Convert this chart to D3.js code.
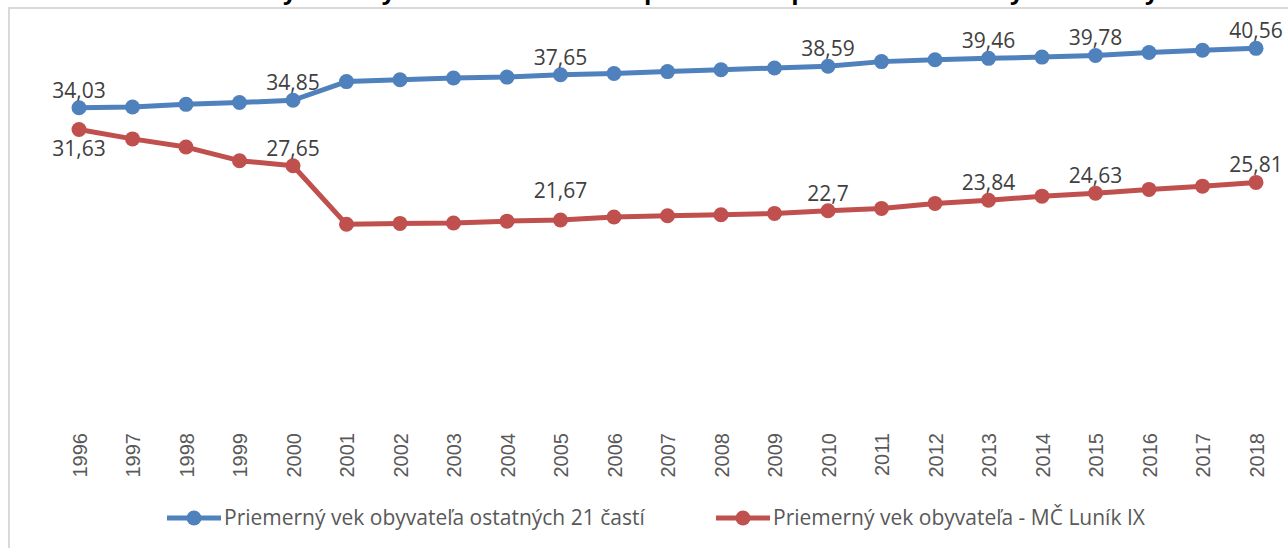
<!DOCTYPE html>
<meta charset="utf-8">
<style>
body {
  margin: 0;
  background-color: #FFFFFF;
}
svg {
  display: block;
  font-family: "Open Sans", sans-serif;
}
.frame {
  fill: none;
  stroke: #D9D9D9;
  stroke-width: 2px;
}
.title {
  font-size: 24px;
  font-weight: bold;
  fill: #000000;
}
.axis text {
  font-size: 20px;
  fill: #595959;
}
.axis path,
.axis line {
  display: none;
}
.line {
  fill: none;
  stroke-width: 5px;
  stroke-linejoin: round;
}
.value-label {
  font-size: 21px;
  fill: #404040;
  text-anchor: middle;
}
.legend text {
  font-size: 21px;
  fill: #595959;
}
</style>
<body>
<script src="https://cdnjs.cloudflare.com/ajax/libs/d3/7.8.5/d3.min.js"></script>
<script>
// Priemerný vek obyvateľa: MČ Luník IX vs. ostatných 21 častí

var years = ["1996", "1997", "1998", "1999", "2000", "2001", "2002", "2003", "2004", "2005", "2006",
             "2007", "2008", "2009", "2010", "2011", "2012", "2013", "2014", "2015", "2016", "2017", "2018"];

var ostatne = [34.03, 34.1, 34.4, 34.6, 34.85, 36.9, 37.1, 37.3, 37.4, 37.65, 37.8,
               38.0, 38.2, 38.4, 38.59, 39.1, 39.3, 39.46, 39.6, 39.78, 40.1, 40.35, 40.56];

var lunik = [31.63, 30.6, 29.7, 28.2, 27.65, 21.2, 21.3, 21.35, 21.55, 21.67, 22.0,
             22.15, 22.25, 22.4, 22.7, 22.95, 23.5, 23.84, 24.3, 24.63, 25.04, 25.4, 25.81];

// roky, pri ktorých sú zobrazené hodnoty
var labeledYears = ["1996", "2000", "2005", "2010", "2013", "2015", "2018"];

var seriesNames = ["Priemerný vek obyvateľa ostatných 21 častí", "Priemerný vek obyvateľa - MČ Luník IX"];
var seriesColors = ["#4F81BD", "#C0504D"];

var yDomain = [0, 45];

var svg = d3.select("body")
              .append("svg")
              .attr("width", "1288")
              .attr("height", "548"),
    margin = {top: 8, right: 32, bottom: 131, left: 79},
    width = +svg.attr("width") - margin.left - margin.right,
    height = +svg.attr("height") - margin.top - margin.bottom;

svg.append("rect")
    .attr("class", "frame")
    .attr("x", 9)
    .attr("y", 8)
    .attr("width", 1400)
    .attr("height", 700);

// nadpis je v pôvodnom obrázku orezaný, vidno len spodok písmen
svg.append("text")
    .attr("class", "title")
    .attr("x", 655)
    .attr("y", -1)
    .style("text-anchor", "middle")
    .text("Graf č. 4: Priemerný vek obyvateľa MČ Luník IX v porovnaní s priemerom ostatných mestských častí");

var x = d3.scalePoint().domain(years).range([0, width]);
var y = d3.scaleLinear().domain(yDomain).range([height, 0]);

var g = svg.append("g")
    .attr("transform", "translate(" + margin.left + "," + margin.top + ")");

g.append("g")
    .attr("class", "axis axis--x")
    .attr("transform", "translate(0," + height + ")")
    .call(d3.axisBottom(x).tickSize(0))
    .selectAll("text")
      .attr("transform", "rotate(-90)")
      .attr("x", -16)
      .attr("y", 0)
      .attr("dy", ".35em")
      .style("text-anchor", "end");

var series = [
  {name: seriesNames[0], color: seriesColors[0], values: ostatne},
  {name: seriesNames[1], color: seriesColors[1], values: lunik}
];

var line = d3.line()
    .x(function(d, i) { return x(years[i]); })
    .y(function(d) { return y(d); });

series.forEach(function(s, si) {
  g.append("path")
      .datum(s.values)
      .attr("class", "line")
      .attr("stroke", s.color)
      .attr("d", line);

  g.selectAll(".dot-" + si)
      .data(s.values)
      .enter().append("circle")
        .attr("class", "dot-" + si)
        .attr("cx", function(d, i) { return x(years[i]); })
        .attr("cy", function(d) { return y(d); })
        .attr("r", 7.5)
        .attr("fill", s.color);

  g.selectAll(".label-" + si)
      .data(s.values.map(function(v, i) { return {year: years[i], value: v}; })
                    .filter(function(d) { return labeledYears.indexOf(d.year) >= 0; }))
      .enter().append("text")
        .attr("class", "value-label label-" + si)
        .attr("x", function(d) { return x(d.year); })
        .attr("y", function(d) {
          // prvá hodnota Luníka IX je pod bodom, ostatné nad bodom
          if (si === 1 && d.year === "1996") return y(d.value) + 26;
          if (si === 1 && d.year === "2005") return y(d.value) - 22;
          return y(d.value) - 10;
        })
        .text(function(d) { return String(d.value).replace(".", ","); });
});

// legenda
var legendX = [167, 716];
var legend = svg.append("g")
    .attr("class", "legend")
    .attr("transform", "translate(0,518)");

series.forEach(function(s, si) {
  var item = legend.append("g")
      .attr("transform", "translate(" + legendX[si] + ",0)");
  item.append("line")
      .attr("x1", 0)
      .attr("x2", 54)
      .attr("stroke", s.color)
      .attr("stroke-width", 5);
  item.append("circle")
      .attr("cx", 27)
      .attr("r", 7.5)
      .attr("fill", s.color);
  item.append("text")
      .attr("x", 57)
      .attr("dy", ".35em")
      .text(s.name);
});
</script>
</body>
